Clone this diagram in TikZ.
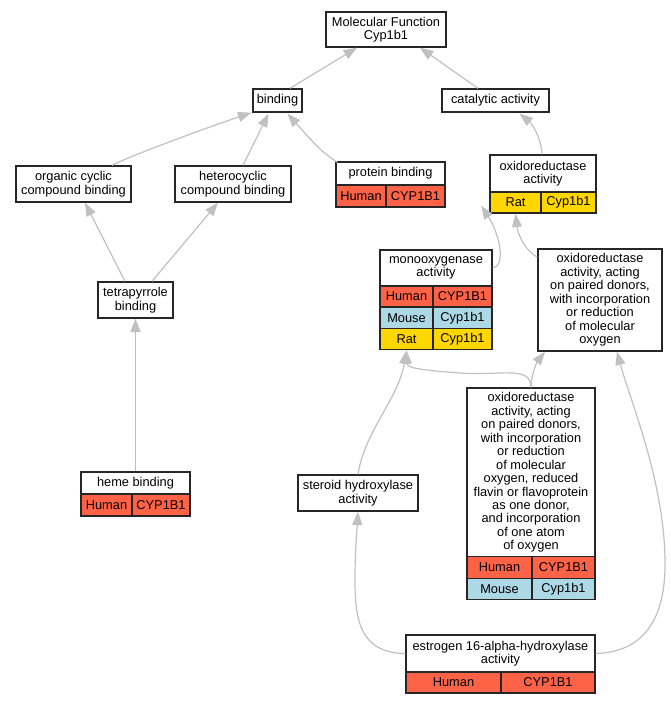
\documentclass[tikz,border=0pt]{standalone}
\usepackage{fontspec}
\setmainfont{Liberation Sans}
\usetikzlibrary{arrows.meta,calc}
\definecolor{human}{HTML}{FF6347}
\definecolor{mouse}{HTML}{ADD8E6}
\definecolor{rat}{HTML}{FFD700}
\definecolor{edgegray}{HTML}{C0C0C0}
\tikzset{
  box/.style={draw=black!85, line width=1pt, fill=white, inner sep=0pt, align=center, font=\fontsize{9.6}{10.1}\selectfont},
  sz/.style 2 args={minimum width=#1*0.75pt, minimum height=#2*0.75pt},
  hum/.style={box, fill=human},
  mou/.style={box, fill=mouse},
  ratc/.style={box, fill=rat},
  edge/.style={draw=edgegray, line width=0.9pt, -{Triangle[length=10pt,width=7.5pt]}}
}
\begin{document}
\begin{tikzpicture}[x=0.75pt,y=-0.75pt]
\useasboundingbox (0,0) rectangle (671,704);

% plain boxes
\node[box,sz={120}{35}] (mf) at (386,29.5) {Molecular Function\\Cyp1b1};
\node[box,sz={107}{23}] (cat) at (495.5,100.5) {catalytic activity};
\node[box,sz={49}{23}] (bind) at (277.5,100.5) {binding};
\node[box,sz={115}{36}] (org) at (73.5,184) {organic cyclic\\compound binding};
\node[box,sz={116}{36}] (het) at (233,184) {heterocyclic\\compound binding};
\node[box,sz={75}{36}] (tet) at (135.5,300) {tetrapyrrole\\binding};
\node[box,sz={124}{102}] (oaa) at (600,300) {oxidoreductase\\activity, acting\\on paired donors,\\with incorporation\\or reduction\\of molecular\\oxygen};
\node[box,sz={120}{36}] (ster) at (358,493) {steroid hydroxylase\\activity};

% protein binding
\node[box,sz={109}{23}] (pb) at (390.5,173.5) {protein binding};
\node[hum,sz={50}{22}] (pb1) at (361,196) {Human};
\node[hum,sz={59}{22}] (pb2) at (415.5,196) {CYP1B1};

% oxidoreductase activity
\node[box,sz={106}{37}] (oa) at (543,173.5) {oxidoreductase\\activity};
\node[ratc,sz={51}{21}] (oa1) at (515.5,202.5) {Rat};
\node[ratc,sz={55}{21}] (oa2) at (568.5,202.5) {Cyp1b1};

% monooxygenase
\node[box,sz={112}{36}] (mono) at (436,268) {monooxygenase\\activity};
\node[hum,sz={53}{21.3}] (mh1) at (406.5,296.5) {Human};
\node[hum,sz={59}{21.3}] (mh2) at (462.5,296.5) {CYP1B1};
\node[mou,sz={53}{21.3}] (mm1) at (406.5,317.8) {Mouse};
\node[mou,sz={59}{21.3}] (mm2) at (462.5,317.8) {Cyp1b1};
\node[ratc,sz={53}{21.3}] (mr1) at (406.5,339.1) {Rat};
\node[ratc,sz={59}{21.3}] (mr2) at (462.5,339.1) {Cyp1b1};

% heme binding
\node[box,sz={109}{22}] (heme) at (135.5,483) {heme binding};
\node[hum,sz={51}{22}] (he1) at (106.5,505) {Human};
\node[hum,sz={58}{22}] (he2) at (161,505) {CYP1B1};

% flavin
\node[box,sz={128}{169}] (flav) at (531,472.5) {oxidoreductase\\activity, acting\\on paired donors,\\with incorporation\\or reduction\\of molecular\\oxygen, reduced\\flavin or flavoprotein\\as one donor,\\and incorporation\\of one atom\\of oxygen};
\node[hum,sz={65}{21.5}] (fh1) at (499.5,567.5) {Human};
\node[hum,sz={63}{21.5}] (fh2) at (563.5,567.5) {CYP1B1};
\node[mou,sz={65}{21.5}] (fm1) at (499.5,589) {Mouse};
\node[mou,sz={63}{21.5}] (fm2) at (563.5,589) {Cyp1b1};

% estrogen
\node[box,sz={189}{37}] (est) at (500.5,653.5) {estrogen 16-alpha-hydroxylase\\activity};
\node[hum,sz={95}{21}] (es1) at (453.5,682.5) {Human};
\node[hum,sz={94}{21}] (es2) at (548,682.5) {CYP1B1};

% edges
\draw[edge] ($(bind.north)+(12.5,0)$) -- ($(mf.south)+(-29,0)$);
\draw[edge] ($(cat.north)+(-17.5,0)$) -- ($(mf.south)+(34,0)$);
\draw[edge] ($(org.north)+(38.5,0)$) .. controls (125,158) and (200,130) .. ($(bind.south west)+(-1,0)$);
\draw[edge] ($(het.north)+(10,0)$) -- ($(bind.south)+(-9,1)$);
\draw[edge] ($(pb.north west)+(2,1)$) .. controls (320,150) .. ($(bind.south)+(10,1)$);
\draw[edge] ($(tet.north)+(-10.5,0)$) -- ($(org.south)+(11.5,0)$);
\draw[edge] ($(tet.north)+(16.5,0)$) -- ($(het.south)+(-15,0)$);
\draw[edge] (heme.north) -- (tet.south);
\draw[edge] ($(oa.north)+(-1,0)$) .. controls (541,135) and (530,122) .. ($(cat.south)+(24,1)$);
\draw[edge] (mono.east) .. controls (506,266) and (500,235) .. ($(oa1.south west)+(-8,-8)$);
\draw[edge] ($(oaa.north west)+(0,9)$) .. controls (525,250) and (518,235) .. (oa1.south);
\draw[edge] (flav.north) .. controls (531,365) and (500,376) .. (460,373) .. controls (420,370) and (407,368) .. (mr1.south);
\draw[edge] (flav.north) .. controls (531,375) and (537,362) .. ($(oaa.south)+(-55,0)$);
\draw[edge] (ster.north) .. controls (365,430) and (398,400) .. (mr1.south);
\draw[edge] (est.west) .. controls (360,653) and (355,620) .. (355,580) .. controls (355,550) and (357,530) .. (ster.south);
\draw[edge] (est.east) .. controls (650,652) and (666,610) .. (665,560) .. controls (664,480) and (630,400) .. ($(oaa.south)+(17,0)$);
\end{tikzpicture}
\end{document}
